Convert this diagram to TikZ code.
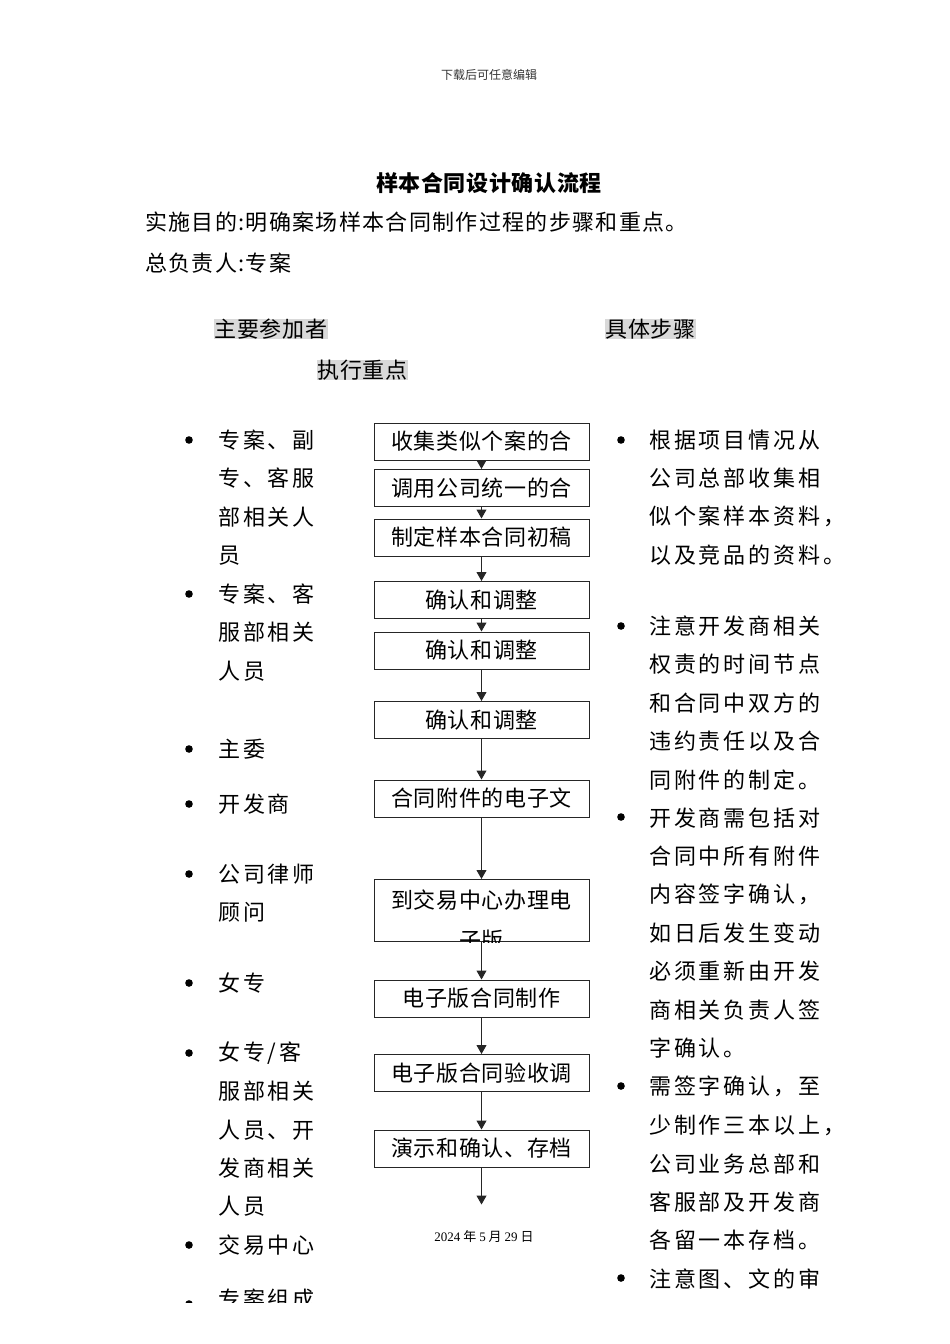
\documentclass[tikz,border=0pt]{standalone}
\usepackage{fontspec}
\newfontfamily\cjk{Noto Sans CJK SC}
\newfontfamily\cjkwide[LetterSpace=13]{Noto Sans CJK SC}
\newfontfamily\cjkmid[LetterSpace=6]{Noto Sans CJK SC}
\newfontfamily\cjknarrow[LetterSpace=3]{Noto Sans CJK SC}
\newfontfamily\serifnum{Liberation Serif}
\usetikzlibrary{positioning,arrows.meta}

\begin{document}
\begin{tikzpicture}[x=1pt, y=-1pt,
  stepbox/.style={draw=black!85, line width=1pt, minimum width=215pt, minimum height=37pt, inner sep=0pt, font=\cjknarrow\fontsize{22}{26}\selectfont},
  headbox/.style={fill=black!15, inner sep=0pt, inner xsep=1pt, font=\cjknarrow\fontsize{22}{26}\selectfont},
  plain/.style={anchor=west, inner sep=0pt, font=\cjkmid\fontsize{22}{26}\selectfont},
  colline/.style={anchor=west, inner sep=0pt, font=\cjkwide\fontsize{22}{26}\selectfont},
  arr/.style={-{Triangle[length=9pt,width=10pt]}, line width=1pt, draw=black!85}
]
\useasboundingbox (0,0) rectangle (950,1344);

% page header and title
\node[font=\cjk\fontsize{12}{14}\selectfont, text=black!80] (hdr) at (489,75) {下载后可任意编辑};
\node[font=\cjknarrow\bfseries\fontsize{22}{26}\selectfont] (title) at (489,183) {样本合同设计确认流程};
\node[plain] (aim) at (145,222) {实施目的:明确案场样本合同制作过程的步骤和重点。};
\node[plain] (lead) at (145,263) {总负责人:专案};

% column headings
\node[headbox] (hpart) at (271,329) {主要参加者};
\node[headbox] (hstep) at (650.5,329) {具体步骤};
\node[headbox] (hkey) at (362.5,370) {执行重点};

% flow of steps
\node[stepbox] (b1) at (481.5,441.5) {收集类似个案的合};
\node[stepbox, below=8.5pt of b1] (b2) {调用公司统一的合};
\node[stepbox, below=11.5pt of b2] (b3) {制定样本合同初稿};
\node[stepbox, below=24.5pt of b3] (b4) {确认和调整};
\node[stepbox, below=12.5pt of b4] (b5) {确认和调整};
\node[stepbox, below=31.5pt of b5] (b6) {确认和调整};
\node[stepbox, below=40.5pt of b6] (b7) {合同附件的电子文};
\node[stepbox, minimum height=62pt, below=61.5pt of b7] (b8) {};
\begin{scope}
  \clip (b8.south west) rectangle (b8.north east);
  \node[font=\cjknarrow\fontsize{22}{40}\selectfont, align=center, inner sep=0pt] (b8t) at ([yshift=-10pt]b8.center) {到交易中心办理电\\子版};
\end{scope}
\node[stepbox, below=37.5pt of b8] (b9) {电子版合同制作};
\node[stepbox, below=36.5pt of b9] (b10) {电子版合同验收调};
\node[stepbox, below=37.5pt of b10] (b11) {演示和确认、存档};
\coordinate[below=37pt of b11] (bend);

\draw[arr] (b1) -- (b2);
\draw[arr] (b2) -- (b3);
\draw[arr] (b3) -- (b4);
\draw[arr] (b4) -- (b5);
\draw[arr] (b5) -- (b6);
\draw[arr] (b6) -- (b7);
\draw[arr] (b7) -- (b8);
\draw[arr] (b8) -- (b9);
\draw[arr] (b9) -- (b10);
\draw[arr] (b10) -- (b11);
\draw[arr] (b11) -- (bend);

% participants (left)
\foreach \y in {440,594,749,804,874,983,1053,1245}
  \fill (189,\y) circle (3.8);
\foreach \t [count=\i from 0] in {专案、副,专、客服,部相关人,员}
  \node[colline] (pa\i) at (218,440+38.4*\i) {\t};
\foreach \t [count=\i from 0] in {专案、客,服部相关,人员}
  \node[colline] (pb\i) at (218,594+38.4*\i) {\t};
\node[colline] (pc) at (218,749) {主委};
\node[colline] (pd) at (218,804) {开发商};
\foreach \t [count=\i from 0] in {公司律师,顾问}
  \node[colline] (pe\i) at (218,874+38.4*\i) {\t};
\node[colline] (pf) at (218,983) {女专};
\foreach \t [count=\i from 0] in {女专/客,服部相关,人员、开,发商相关,人员}
  \node[colline] (pg\i) at (218,1053+38.4*\i) {\t};
\node[colline] (ph) at (218,1245) {交易中心};
\begin{scope}
  \clip (150,1200) rectangle (400,1302);
  \fill (189,1304) circle (3.8);
  \node[colline] (pi) at (218,1299) {专案组成};
\end{scope}

% key points (right)
\foreach \y in {440,626,817,1086,1278}
  \fill (621,\y) circle (3.8);
\foreach \t [count=\i from 0] in {根据项目情况从,公司总部收集相,似个案样本资料，,以及竞品的资料。}
  \node[colline] (ka\i) at (649,440+38.4*\i) {\t};
\foreach \t [count=\i from 0] in {注意开发商相关,权责的时间节点,和合同中双方的,违约责任以及合,同附件的制定。,
  开发商需包括对,合同中所有附件,内容签字确认，,如日后发生变动,必须重新由开发,商相关负责人签,字确认。,
  需签字确认，至,少制作三本以上，,公司业务总部和,客服部及开发商,各留一本存档。,注意图、文的审}
  \node[colline] (kb\i) at (649,626+38.4*\i) {\t};

% footer date
\node[font=\cjk\fontsize{13}{15}\selectfont] (date) at (484,1237) {{\serifnum 2024} 年 {\serifnum 5} 月 {\serifnum 29} 日};
\end{tikzpicture}
\end{document}
